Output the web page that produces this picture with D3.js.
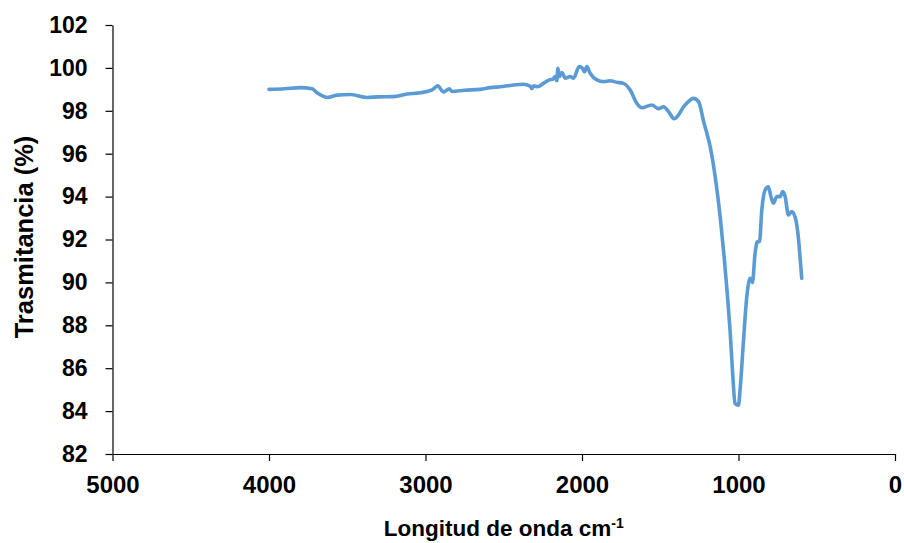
<!DOCTYPE html>
<html>
<head>
<meta charset="utf-8">
<script src="https://cdn.jsdelivr.net/npm/d3@7/dist/d3.min.js"></script>
<style>
  html, body { margin: 0; padding: 0; background: #fff; }
  svg { display: block; }
  text { font-family: "Liberation Sans", Arial, sans-serif; font-weight: bold; fill: #000; }
</style>
</head>
<body>
<svg id="chart" width="904" height="543"></svg>
<script>
// Wavenumber (cm-1) and transmittance (%)
const wavenumber = [4000,3900,3800,3725,3693,3625,3565,3480,3374,3300,3204,3118,3033,2958,2922,2884,2848,2830,2750,2650,2586,2522,2458,2374,2331,2320,2309,2284,2246,2208,2186,2171,2161,2154,2144,2128,2107,2075,2054,2018,1997,1984,1969,1948,1905,1863,1820,1777,1735,1692,1650,1618,1554,1511,1479,1447,1411,1341,1287,1255,1223,1181,1149,1117,1092,1070,1054,1036,1022,1000,990,968,947,926,911,894,879,866,851,830,809,793,777,755,734,717,702,681,660,639,617,607,596];
const transmittance = [99.00,99.03,99.08,99.03,98.84,98.62,98.73,98.76,98.62,98.65,98.66,98.78,98.84,98.97,99.16,98.88,99.02,98.90,98.96,99.00,99.08,99.12,99.18,99.24,99.14,99.03,99.17,99.12,99.28,99.44,99.48,99.60,99.40,99.98,99.60,99.78,99.52,99.60,99.52,100.06,99.98,99.82,100.06,99.75,99.44,99.36,99.40,99.33,99.28,98.97,98.35,98.14,98.27,98.10,98.19,97.96,97.63,98.27,98.58,98.43,97.50,96.33,94.93,93.06,91.20,89.33,87.78,85.60,84.36,84.28,84.98,87.30,89.33,90.19,89.99,91.36,91.90,91.90,93.38,94.31,94.46,94.00,93.69,94.00,94.00,94.23,94.00,93.14,93.30,93.06,92.06,91.20,90.19];
const xTicks = [5000,4000,3000,2000,1000,0];
const yTicks = [82,84,86,88,90,92,94,96,98,100,102];
const xTitle = "Longitud de onda cm";
const xTitleSup = "-1";
const yTitle = "Trasmitancia (%)";

const data = wavenumber.map((w, i) => ({w, t: transmittance[i]}));

const svg = d3.select("#chart");
const mLeft = 112.5, mRight = 895, mTop = 25, mBottom = 454;

const x = d3.scaleLinear().domain([5000, 0]).range([mLeft, mRight]);
const y = d3.scaleLinear().domain([82, 102]).range([mBottom, mTop]);

// Y axis
const yAxis = svg.append("g")
  .attr("transform", `translate(${mLeft},0)`)
  .call(d3.axisLeft(y).tickValues(yTicks).tickSize(7).tickSizeOuter(0).tickPadding(18));
yAxis.selectAll("text").style("font-size", "23px");

// X axis
const xAxis = svg.append("g")
  .attr("transform", `translate(0,${mBottom})`)
  .call(d3.axisBottom(x).tickValues(xTicks).tickSize(7).tickSizeOuter(0).tickPadding(15).tickFormat(d3.format("d")));
xAxis.selectAll("text").style("font-size", "24px");

svg.selectAll(".domain, .tick line").attr("stroke", "#000").attr("stroke-width", 1.2);

// Line
const line = d3.line()
  .x(d => x(d.w))
  .y(d => y(d.t))
  .curve(d3.curveMonotoneX);

svg.append("path")
  .datum(data)
  .attr("fill", "none")
  .attr("stroke", "#5B9BD5")
  .attr("stroke-width", 3.6)
  .attr("stroke-linejoin", "round")
  .attr("stroke-linecap", "round")
  .attr("d", line);

// X title
const xt = svg.append("text")
  .attr("x", (mLeft + mRight) / 2)
  .attr("y", 536)
  .attr("text-anchor", "middle")
  .style("font-size", "22.5px");
xt.append("tspan").text(xTitle);
xt.append("tspan").text(xTitleSup).attr("dy", "-0.55em").style("font-size", "14px");

// Y title
svg.append("text")
  .attr("transform", `translate(33,237) rotate(-90)`)
  .attr("text-anchor", "middle")
  .style("font-size", "25.5px")
  .text(yTitle);
</script>
</body>
</html>
